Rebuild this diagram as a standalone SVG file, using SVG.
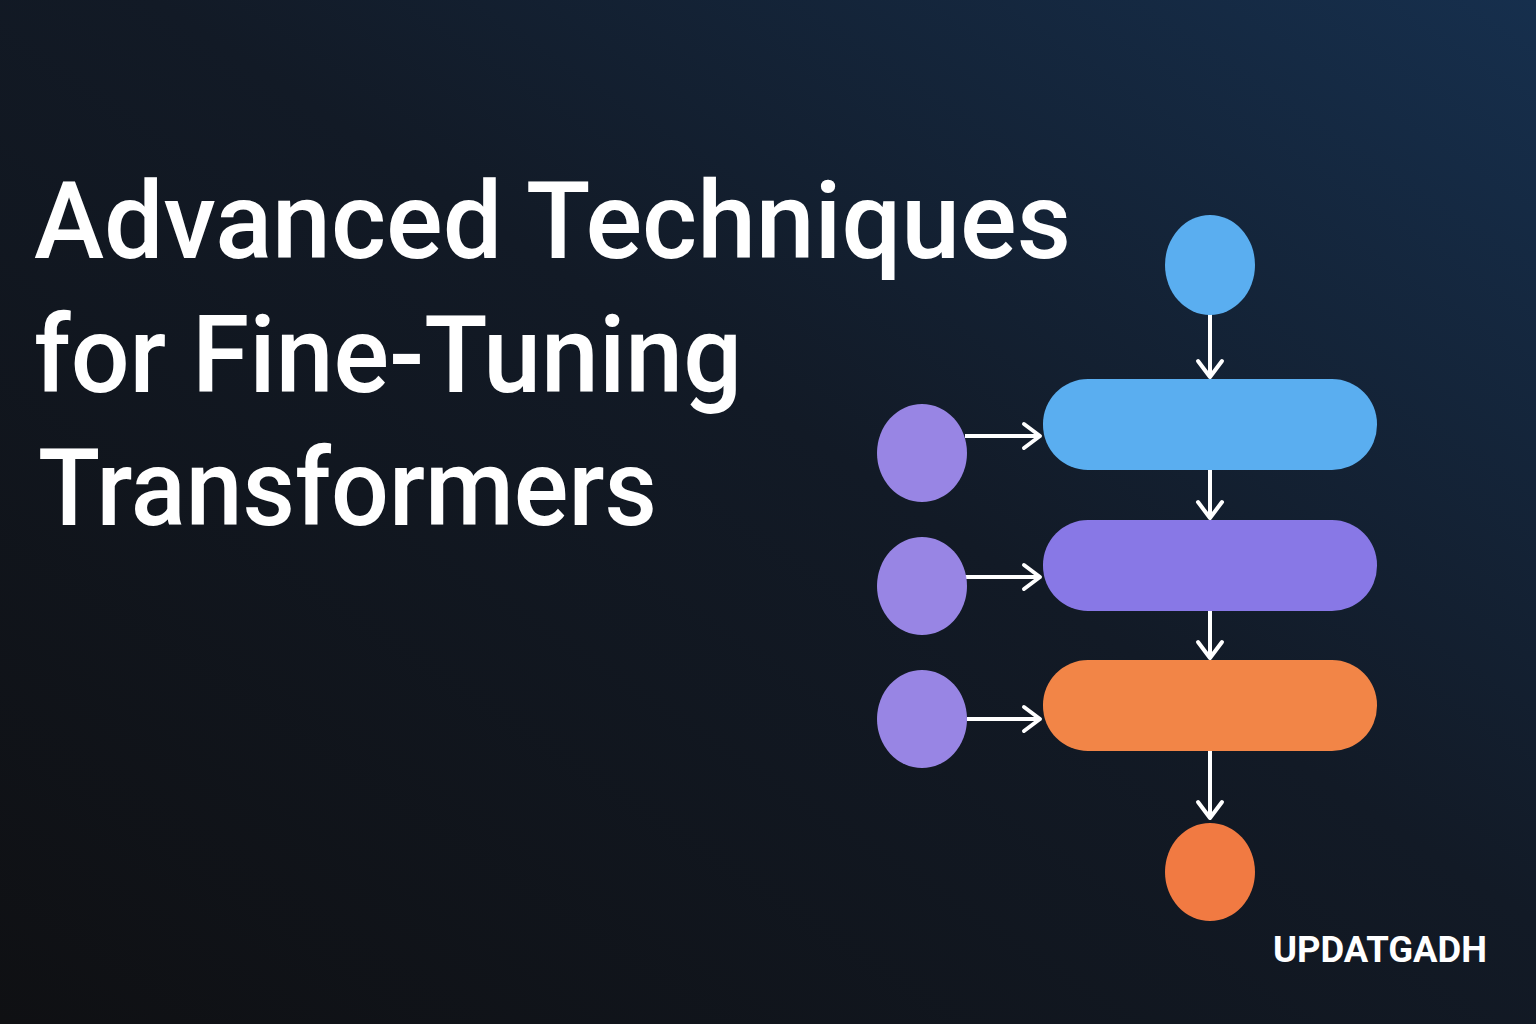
<svg xmlns="http://www.w3.org/2000/svg" width="1536" height="1024" viewBox="0 0 1536 1024">
<defs>
<linearGradient id="bg" x1="0" y1="1" x2="1" y2="0">
<stop offset="0" stop-color="#0f1013"/>
<stop offset="0.55" stop-color="#121a26"/>
<stop offset="1" stop-color="#162f4d"/>
</linearGradient>
<marker id="ah" viewBox="0 0 30 30" refX="26" refY="15" markerWidth="30" markerHeight="30" markerUnits="userSpaceOnUse" orient="auto">
<path d="M10,3 L26,15 L10,27" fill="none" stroke="#fff" stroke-width="4" stroke-linecap="round" stroke-linejoin="round"/>
</marker>
<style>
.t{font-family:Roboto,"Liberation Sans",sans-serif;font-weight:500;font-size:108px;fill:#fff}
.c{stroke:#fff;stroke-width:4;fill:none;marker-end:url(#ah)}
</style>
</defs>
<rect width="1536" height="1024" fill="url(#bg)"/>
<text class="t" x="34" y="258" textLength="1037" lengthAdjust="spacingAndGlyphs">Advanced Techniques</text>
<text class="t" x="34" y="392" textLength="708" lengthAdjust="spacingAndGlyphs">for Fine-Tuning</text>
<text class="t" x="38" y="525" textLength="619" lengthAdjust="spacingAndGlyphs">Transformers</text>
<g id="connectors">
<line class="c" x1="1210" y1="314" x2="1210" y2="377"/>
<line class="c" x1="1210" y1="470" x2="1210" y2="518"/>
<line class="c" x1="1210" y1="611" x2="1210" y2="658"/>
<line class="c" x1="1210" y1="751" x2="1210" y2="818"/>
<line class="c" x1="965" y1="436" x2="1040" y2="436"/>
<line class="c" x1="965" y1="577" x2="1040" y2="577"/>
<line class="c" x1="967" y1="719" x2="1040" y2="719"/>
</g>
<g id="top"><ellipse cx="1210" cy="265" rx="45" ry="50" fill="#5aaef0"/></g>
<g id="p1"><rect x="1043" y="379" width="334" height="91" rx="45" fill="#5aaef0"/></g>
<g id="p2"><rect x="1043" y="520" width="334" height="91" rx="45" fill="#8878e6"/></g>
<g id="p3"><rect x="1043" y="660" width="334" height="91" rx="45" fill="#f28547"/></g>
<g id="bottom"><ellipse cx="1210" cy="872" rx="45" ry="49" fill="#f17a42"/></g>
<g id="l1"><ellipse cx="922" cy="453" rx="45" ry="49" fill="#9885e4"/></g>
<g id="l2"><ellipse cx="922" cy="586" rx="45" ry="49" fill="#9885e4"/></g>
<g id="l3"><ellipse cx="922" cy="719" rx="45" ry="49" fill="#9885e4"/></g>
<text x="1380" y="962" text-anchor="middle" font-family="Roboto,'Liberation Sans',sans-serif" font-weight="700" font-size="36" fill="#fff" textLength="214" lengthAdjust="spacingAndGlyphs">UPDATGADH</text>
</svg>
